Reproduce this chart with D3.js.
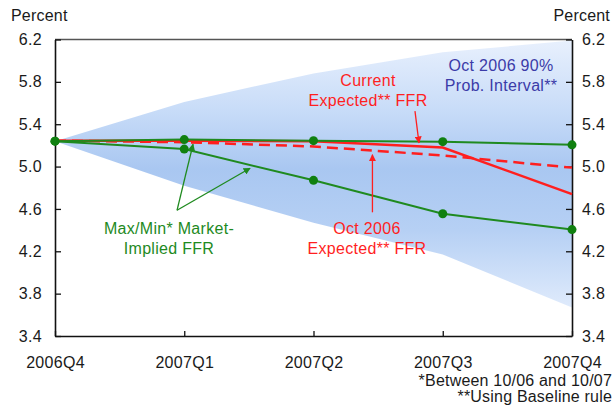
<!DOCTYPE html>
<html>
<head>
<meta charset="utf-8">
<script src="https://cdn.jsdelivr.net/npm/d3@7"></script>
<style>
  html, body { margin: 0; padding: 0; background: #ffffff; }
  svg { display: block; font-family: "Liberation Sans", Arial, sans-serif; }
  .tick text { font-size: 16px; fill: #1a1a1a; letter-spacing: 0.3px; }
</style>
</head>
<body>
<svg id="chart" width="615" height="414"></svg>
<script>
// ---- data ----
const categories   = ["2006Q4", "2007Q1", "2007Q2", "2007Q3", "2007Q4"];
const maxFFR       = [5.24, 5.255, 5.245, 5.235, 5.205];   // Max market-implied FFR
const minFFR       = [5.24, 5.165, 4.87, 4.555, 4.405];    // Min market-implied FFR
const currentFFR   = [5.245, 5.245, 5.24, 5.18, 4.74];     // Current expected FFR
const oct2006FFR   = [5.245, 5.23, 5.19, 5.105, 4.99];     // Oct 2006 expected FFR
const bandUpper    = [5.24, 5.61, 5.88, 6.08, 6.19];       // Oct 2006 90% interval, upper
const bandLower    = [5.24, 4.82, 4.47, 4.17, 3.67];       // Oct 2006 90% interval, lower
const yTicks       = [3.4, 3.8, 4.2, 4.6, 5.0, 5.4, 5.8, 6.2];
const footnotes    = ["*Between 10/06 and 10/07", "**Using Baseline rule"];

// ---- layout ----
const svg = d3.select("#chart");
const L = 55, R = 572, T = 39.5, B = 336;
const x  = d3.scalePoint().domain(categories).range([L, R]).padding(0);
const xi = d3.scaleLinear().domain([0, categories.length - 1]).range([L, R]);
const y  = d3.scaleLinear().domain([3.4, 6.2]).range([B, T]);

// gradient for the probability band
const defs = svg.append("defs");
const grad = defs.append("linearGradient").attr("id", "bandGrad")
  .attr("gradientUnits", "userSpaceOnUse").attr("x1", 0).attr("x2", 0).attr("y1", 40).attr("y2", 320);
[[0, "#e8f0fd"], [0.25, "#c8dcf8"], [0.46, "#a9c7f1"], [0.68, "#b6d0f4"], [1, "#e6effd"]]
  .forEach(([o, c]) => grad.append("stop").attr("offset", o).attr("stop-color", c));

function marker(id, color) {
  defs.append("marker").attr("id", id).attr("viewBox", "0 0 10 10")
    .attr("refX", 9).attr("refY", 5).attr("markerWidth", 7).attr("markerHeight", 7)
    .attr("markerUnits", "userSpaceOnUse").attr("orient", "auto")
    .append("path").attr("d", "M0,0 L10,5 L0,10 z").attr("fill", color);
}
marker("arrRed", "#ff1f1f");
marker("arrGreen", "#1f8a1f");

// band
const bandData = categories.map((c, i) => ({c, lo: bandLower[i], hi: bandUpper[i]}));
svg.append("path").datum(bandData)
  .attr("d", d3.area().x(d => x(d.c)).y0(d => y(d.lo)).y1(d => y(d.hi)))
  .attr("fill", "url(#bandGrad)");

// top border
svg.append("line").attr("x1", L).attr("x2", R).attr("y1", T).attr("y2", T)
  .attr("stroke", "#555").attr("stroke-width", 1.5);

// axes
const fmt = d3.format(".1f");
const gl = svg.append("g").attr("transform", `translate(${L},0)`)
  .call(d3.axisLeft(y).tickValues(yTicks).tickFormat(fmt).tickSizeInner(-6).tickSizeOuter(0).tickPadding(13));
const gr = svg.append("g").attr("transform", `translate(${R},0)`)
  .call(d3.axisRight(y).tickValues(yTicks).tickFormat(fmt).tickSizeInner(-6).tickSizeOuter(0).tickPadding(10));
const gb = svg.append("g").attr("transform", `translate(0,${B})`)
  .call(d3.axisBottom(x).tickSizeInner(-5).tickSizeOuter(0).tickPadding(21));
[gl, gr, gb].forEach(g => {
  g.selectAll("path.domain").attr("stroke", "#111").attr("stroke-width", 1.6);
  g.selectAll(".tick line").attr("stroke", "#111").attr("stroke-width", 1.3);
  g.selectAll(".tick text").attr("font-family", "Liberation Sans, Arial, sans-serif");
});

// "Percent" labels
svg.append("text").attr("x", 11).attr("y", 21).text("Percent")
  .attr("font-size", 16).attr("fill", "#1a1a1a").attr("letter-spacing", 0.2);
svg.append("text").attr("x", 610).attr("y", 21).attr("text-anchor", "end").text("Percent")
  .attr("font-size", 16).attr("fill", "#1a1a1a").attr("letter-spacing", 0.2);

// lines
const line = d3.line().x((d, i) => x(categories[i])).y(d => y(d));
svg.append("path").datum(oct2006FFR).attr("d", line).attr("fill", "none")
  .attr("stroke", "#ff1f1f").attr("stroke-width", 2.5).attr("stroke-dasharray", "11,6");
svg.append("path").datum(currentFFR).attr("d", line).attr("fill", "none")
  .attr("stroke", "#ff1f1f").attr("stroke-width", 2.5);
[maxFFR, minFFR].forEach(s => {
  svg.append("path").datum(s).attr("d", line).attr("fill", "none")
    .attr("stroke", "#1f8a1f").attr("stroke-width", 2);
});
[maxFFR, minFFR].forEach(s => {
  svg.append("g").selectAll("circle").data(s).join("circle")
    .attr("cx", (d, i) => x(categories[i])).attr("cy", d => y(d)).attr("r", 4.5)
    .attr("fill", "#108010");
});

// annotations (positions in data units: [category index, percent])
const P = (i, v) => [xi(i), y(v)];
function arrow(from, to, color, mk) {
  const a = P(...from), b = P(...to);
  svg.append("line").attr("x1", a[0]).attr("y1", a[1]).attr("x2", b[0]).attr("y2", b[1])
    .attr("stroke", color).attr("stroke-width", 1.3).attr("marker-end", `url(#${mk})`);
}
arrow([0.944, 4.587], [1.068, 5.211], "#1f8a1f", "arrGreen");
arrow([0.944, 4.587], [1.509, 4.984], "#1f8a1f", "arrGreen");
arrow([2.785, 5.524], [2.816, 5.225], "#ff1f1f", "arrRed");
arrow([2.456, 4.568], [2.456, 5.112], "#ff1f1f", "arrRed");

function label(pos, lines, color) {
  const p = P(...pos);
  const t = svg.append("text").attr("x", p[0]).attr("y", p[1]).attr("text-anchor", "middle")
    .attr("fill", color).attr("font-size", 16).attr("letter-spacing", 0.3);
  lines.forEach((s, k) => t.append("tspan").attr("x", p[0]).attr("dy", k ? 20 : 0).text(s));
}
label([2.422, 5.76], ["Current", "Expected** FFR"], "#ff1f1f");
label([3.451, 5.902], ["Oct 2006 90%", "Prob. Interval**"], "#3b3ba8");
label([0.882, 4.36], ["Max/Min* Market-", "Implied FFR"], "#1e8a1e");
label([2.414, 4.36], ["Oct 2006", "Expected** FFR"], "#ff1f1f");

// footnotes
footnotes.forEach((s, k) => {
  svg.append("text").attr("x", 612).attr("y", 386 + k * 16).attr("text-anchor", "end")
    .attr("font-size", 16).attr("fill", "#1a1a1a").attr("letter-spacing", 0.2).text(s);
});
</script>
</body>
</html>
